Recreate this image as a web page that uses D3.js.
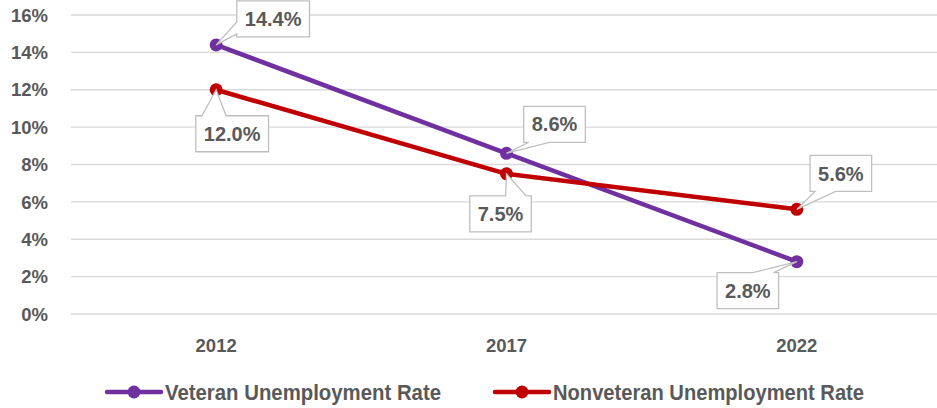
<!DOCTYPE html>
<html>
<head>
<meta charset="utf-8">
<script src="https://cdn.jsdelivr.net/npm/d3@7"></script>
<style>
  body { margin: 0; background: #fff; }
  svg { display: block; }
  text { font-family: "Liberation Sans", Arial, sans-serif; font-weight: bold; fill: #595959; }
</style>
</head>
<body>
<div class="svg-container"></div>
<script>
// data
const years = ['2012', '2017', '2022'];
const veteran = [14.4, 8.6, 2.8];
const nonveteran = [12.0, 7.5, 5.6];
const yTicks = [0, 2, 4, 6, 8, 10, 12, 14, 16];
const seriesNames = ['Veteran Unemployment Rate', 'Nonveteran Unemployment Rate'];
const seriesColors = ['#7030a0', '#c00000'];

// where each callout box sits relative to its point (dx, dy of the box centre)
const labelOffsets = [
    [[57, -26], [48, -29], [-49, 29]],
    [[16, 44], [-6, 40], [44, -36]]
];

var width = 937, height = 408,
    plot = {left: 71, right: 942, top: 15, bottom: 314};

var svg = d3.select('.svg-container')
    .append('svg')
    .attr('width', width)
    .attr('height', height);

var xScale = d3.scaleBand().domain(years).range([plot.left, plot.right]),
    yScale = d3.scaleLinear().domain([0, 16]).range([plot.bottom, plot.top]);
const xc = d => xScale(d) + xScale.bandwidth() / 2;

// gridlines
svg.append('g')
    .selectAll('line')
    .data(yTicks).enter().append('line')
    .attr('x1', plot.left).attr('x2', width)
    .attr('y1', d => yScale(d)).attr('y2', d => yScale(d))
    .attr('stroke', '#d9d9d9')
    .attr('stroke-width', 1.3);

// y axis labels
svg.append('g')
    .selectAll('text')
    .data(yTicks).enter().append('text')
    .attr('x', 48)
    .attr('y', d => yScale(d))
    .attr('dy', '0.36em')
    .attr('text-anchor', 'end')
    .style('font-size', '18.5px')
    .text(d => d + '%');

// x axis labels
svg.append('g')
    .selectAll('text')
    .data(years).enter().append('text')
    .attr('x', d => xc(d))
    .attr('y', 352)
    .attr('text-anchor', 'middle')
    .style('font-size', '18.5px')
    .text(d => d);

const series = [veteran, nonveteran];
const line = d3.line()
    .x((d, i) => xc(years[i]))
    .y(d => yScale(d));

series.forEach(function (vals, s) {
    svg.append('path')
        .datum(vals)
        .attr('d', line)
        .attr('fill', 'none')
        .attr('stroke', seriesColors[s])
        .attr('stroke-width', 4.5)
        .attr('stroke-linejoin', 'round');
    svg.append('g')
        .selectAll('circle')
        .data(vals).enter().append('circle')
        .attr('cx', (d, i) => xc(years[i]))
        .attr('cy', d => yScale(d))
        .attr('r', 6.5)
        .attr('fill', seriesColors[s]);
});

// callout shape: rectangle with a wedge pointing at (tx, ty)
function calloutPath(l, t, w, h, tx, ty) {
    const cx = l + w / 2, cy = t + h / 2;
    const dx = tx - cx, dy = ty - cy;
    const r = l + w, b = t + h;
    let side;
    if (Math.abs(dx) / w > Math.abs(dy) / h) side = dx < 0 ? 'left' : 'right';
    else side = dy < 0 ? 'top' : 'bottom';
    const hx = dx < 0 ? [l + w / 12, l + w * 5 / 12] : [l + w * 7 / 12, l + w * 11 / 12];
    const vy = dy < 0 ? [t + h / 12, t + h * 5 / 12] : [t + h * 7 / 12, t + h * 11 / 12];
    let p = 'M' + l + ',' + t;
    if (side === 'top') p += 'L' + hx[0] + ',' + t + 'L' + tx + ',' + ty + 'L' + hx[1] + ',' + t;
    p += 'L' + r + ',' + t;
    if (side === 'right') p += 'L' + r + ',' + vy[0] + 'L' + tx + ',' + ty + 'L' + r + ',' + vy[1];
    p += 'L' + r + ',' + b;
    if (side === 'bottom') p += 'L' + hx[1] + ',' + b + 'L' + tx + ',' + ty + 'L' + hx[0] + ',' + b;
    p += 'L' + l + ',' + b;
    if (side === 'left') p += 'L' + l + ',' + vy[1] + 'L' + tx + ',' + ty + 'L' + l + ',' + vy[0];
    return p + 'Z';
}

// data labels
series.forEach(function (vals, s) {
    vals.forEach(function (v, i) {
        const px = xc(years[i]), py = yScale(v);
        const bx = px + labelOffsets[s][i][0], by = py + labelOffsets[s][i][1];
        const g = svg.append('g');
        const path = g.append('path');
        const txt = g.append('text')
            .attr('x', bx)
            .attr('y', by)
            .attr('dy', '0.36em')
            .attr('text-anchor', 'middle')
            .style('font-size', '20px')
            .text(v.toFixed(1) + '%');
        const tw = txt.node().getComputedTextLength();
        const w = tw + 16, h = 36;
        path.attr('d', calloutPath(bx - w / 2, by - h / 2, w, h, px, py))
            .attr('fill', '#fff')
            .attr('stroke', '#bfbfbf')
            .attr('stroke-width', 1.3);
    });
});

// legend
const legendPos = [{x: 107, tx: 165, tw: 276}, {x: 495, tx: 553, tw: 311}];
const ly = 392;
seriesNames.forEach(function (name, s) {
    const lp = legendPos[s];
    svg.append('line')
        .attr('x1', lp.x).attr('x2', lp.x + 54)
        .attr('y1', ly).attr('y2', ly)
        .attr('stroke', seriesColors[s])
        .attr('stroke-width', 4.5)
        .attr('stroke-linecap', 'round');
    svg.append('circle')
        .attr('cx', lp.x + 27).attr('cy', ly)
        .attr('r', 6.5)
        .attr('fill', seriesColors[s]);
    svg.append('text')
        .attr('x', lp.tx)
        .attr('y', ly)
        .attr('dy', '0.36em')
        .attr('textLength', lp.tw)
        .attr('lengthAdjust', 'spacingAndGlyphs')
        .style('font-size', '22px')
        .text(name);
});
</script>
</body>
</html>
